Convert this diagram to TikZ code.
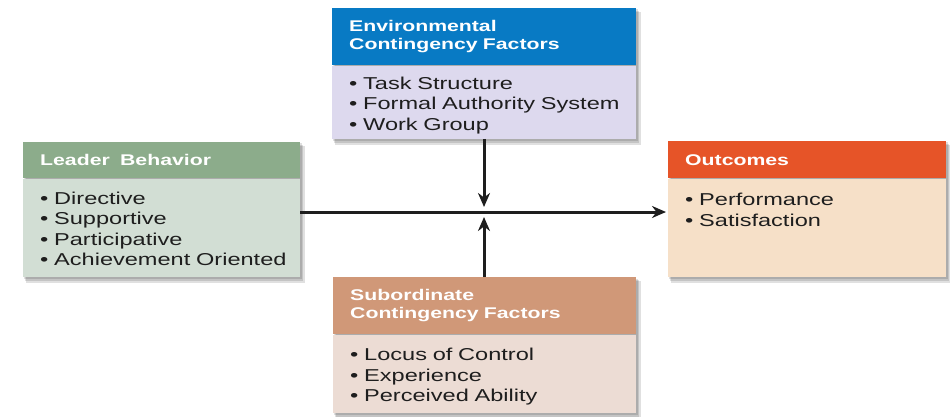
\documentclass[tikz,border=0pt]{standalone}
\usepackage{fontspec}
\setmainfont[FakeStretch=1.37]{Liberation Sans}
\usetikzlibrary{arrows.meta}
\pgfdeclarelayer{bg}
\pgfsetlayers{bg,main}
\definecolor{envH}{RGB}{8,122,196}
\definecolor{envB}{RGB}{221,217,238}
\definecolor{ldrH}{RGB}{140,172,139}
\definecolor{ldrB}{RGB}{210,222,212}
\definecolor{outH}{RGB}{230,84,40}
\definecolor{outB}{RGB}{246,224,200}
\definecolor{subH}{RGB}{208,152,120}
\definecolor{subB}{RGB}{236,220,212}
\definecolor{txt}{RGB}{30,30,30}
\definecolor{arrc}{RGB}{30,30,30}
\newcommand{\itm}[1]{\mbox{•\ #1}}
\begin{document}
\begin{tikzpicture}[x=1pt,y=1pt,
  box/.style={rectangle, anchor=north west, inner sep=0pt, inner xsep=17pt, align=left, draw=none},
  hdr/.style={box, font=\fontsize{15.5}{18}\selectfont\bfseries, text=white},
  bdy/.style={box, font=\fontsize{17.2}{20.5}\selectfont, text=txt},
  arr/.style={line width=3pt, draw=arrc, -{Stealth[length=14pt,width=12pt,inset=4.5pt]}},
  shd/.style={fill=black, opacity=0.12}]
\useasboundingbox (0,0) rectangle (950,-417);
\begin{pgfonlayer}{bg}
\fill[white] (0,0) rectangle (950,-417);
\end{pgfonlayer}

% Environmental
\node[hdr, fill=envH, text width=270pt, minimum height=57pt] (envh) at (332,-8) {Environmental\\Contingency Factors};
\node[bdy, fill=envB, text width=270pt, minimum height=73pt] (envb) at (envh.south west) {\rule{0pt}{19pt}\itm{Task Structure}\\\itm{Formal Authority System}\\\itm{Work Group}};

% Leader
\node[hdr, fill=ldrH, text width=243pt, minimum height=36pt] (ldrh) at (23,-142) {Leader\ \ Behavior};
\node[bdy, fill=ldrB, text width=243pt, minimum height=98pt] (ldrb) at (ldrh.south west) {\rule{0pt}{15pt}\itm{Directive}\\\itm{Supportive}\\\itm{Participative}\\\itm{Achievement Oriented}};

% Outcomes
\node[hdr, fill=outH, text width=244pt, minimum height=37pt] (outh) at (668,-141) {Outcomes};
\node[bdy, fill=outB, text width=244pt, minimum height=98pt] (outb) at (outh.south west) {\rule{0pt}{18pt}\itm{Performance}\\\itm{Satisfaction}\\\mbox{}\\\mbox{}};

% Subordinate
\node[hdr, fill=subH, text width=269pt, minimum height=57pt] (subh) at (333,-277) {Subordinate\\Contingency Factors};
\node[bdy, fill=subB, text width=269pt, minimum height=78pt] (subb) at (subh.south west) {\rule{0pt}{19pt}\itm{Locus of Control}\\\itm{Experience}\\\itm{Perceived Ability}};

% shadows
\begin{pgfonlayer}{bg}
\foreach \h/\b in {envh/envb, ldrh/ldrb, outh/outb, subh/subb}{
  \fill[shd] ([xshift=1pt,yshift=-1.5pt]\h.north west) rectangle ([xshift=1.5pt,yshift=-2pt]\b.south east);
  \fill[shd] ([xshift=2pt,yshift=-3pt]\h.north west) rectangle ([xshift=3pt,yshift=-4pt]\b.south east);
  \fill[shd] ([xshift=3pt,yshift=-4pt]\h.north west) rectangle ([xshift=4.5pt,yshift=-6pt]\b.south east);
}
\end{pgfonlayer}

% connectors
\coordinate (hub) at (484,-212);
\draw[arr, shorten >=2pt] (ldrb.east |- hub) -- (outb.west |- hub);
\draw[arr] (envb.south -| hub) -- ([yshift=5pt]hub);
\draw[arr] (subh.north -| hub) -- ([yshift=-5pt]hub);
\end{tikzpicture}
\end{document}
